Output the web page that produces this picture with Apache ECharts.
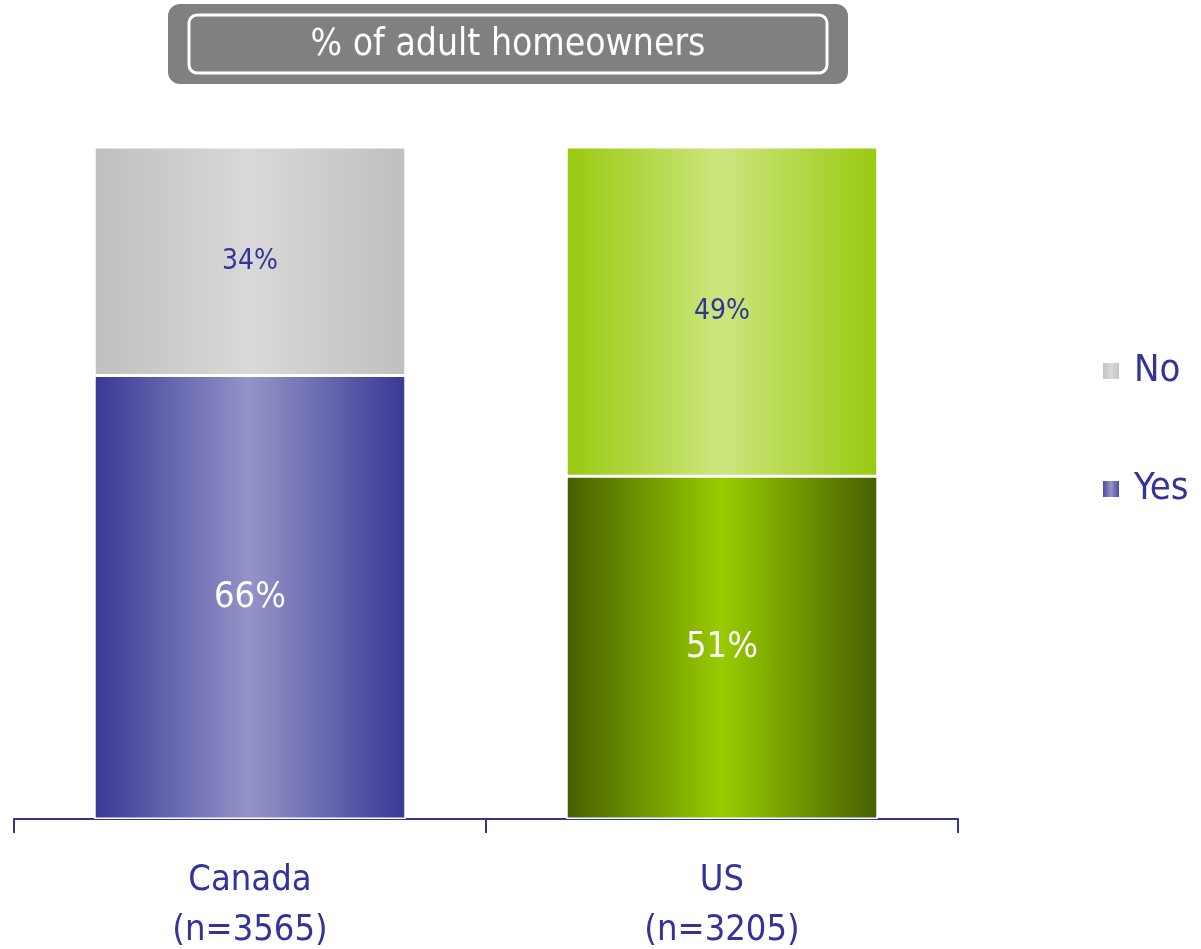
<!DOCTYPE html>
<html>
<head>
<meta charset="utf-8">
<script src="https://cdn.jsdelivr.net/npm/echarts@6/dist/echarts.min.js"></script>
<style>
html, body { margin: 0; padding: 0; background: #fff; }
#chart { width: 1201px; height: 949px; }
</style>
</head>
<body>
<div id="chart"></div>
<script>
var countries = ['Canada', 'US'];
var sampleSizes = ['n=3565', 'n=3205'];
var yesValues = [66, 51];
var noValues = [34, 49];

var FONT = "'Liberation Sans Narrow', 'DejaVu Sans Condensed', 'Liberation Sans', sans-serif";

function hGrad(edge, mid) {
	return {
		type: 'linear', x: 0, y: 0, x2: 1, y2: 0,
		colorStops: [
			{ offset: 0, color: edge },
			{ offset: 0.5, color: mid },
			{ offset: 1, color: edge }
		]
	};
}

var yesColors = [hGrad('#383896', '#9494c8'), hGrad('#475f00', '#99cc00')];
var noColors = [hGrad('#bfbfbf', '#d9d9d9'), hGrad('#99c90f', '#cde67f')];

var categories = countries.map(function(c, i) {
	return c + '\n(' + sampleSizes[i] + ')';
});

var option = {
	animation: false,
	graphic: [
		{ type: 'rect', shape: { x: 168, y: 4, width: 680, height: 80, r: 12 }, style: { fill: '#808080' } },
		{ type: 'rect', shape: { x: 189, y: 15, width: 638, height: 58, r: 8 }, style: { fill: 'none', stroke: '#fff', lineWidth: 3 } },
		{ type: 'text', x: 508, y: 45, style: { text: '% of adult homeowners', fill: '#fff', fontSize: 37, fontFamily: FONT, align: 'center', verticalAlign: 'middle' } }
	],
	legend: {
		data: ['No', 'Yes'],
		orient: 'vertical',
		left: 1096,
		top: 347,
		padding: 5,
		icon: 'rect',
		itemWidth: 18,
		itemHeight: 18,
		itemGap: 80,
		textStyle: { fontSize: 38, color: '#333399', fontFamily: FONT, padding: [0, 0, 0, 9] }
	},
	grid: { left: 14, right: 243, top: 147, bottom: 130, outerBoundsMode: 'none', containLabel: false },
	xAxis: {
		type: 'category',
		data: categories,
		axisLine: { lineStyle: { color: '#333399', width: 2 } },
		axisTick: { show: true, length: 14, lineStyle: { color: '#333399', width: 2 } },
		axisLabel: { fontSize: 36, lineHeight: 50, margin: 37, color: '#333399', fontFamily: FONT }
	},
	yAxis: { type: 'value', min: 0, max: 100, show: false },
	series: [
		{
			name: 'Yes',
			type: 'bar',
			stack: 'total',
			barWidth: '66%',
			itemStyle: { color: yesColors[0], borderColor: '#fff', borderWidth: 1.5 },
			label: { show: true, position: 'inside', color: '#fff', fontSize: 36, fontFamily: FONT, formatter: '{c}%' },
			data: yesValues.map(function(v, i) { return { value: v, itemStyle: { color: yesColors[i] } }; })
		},
		{
			name: 'No',
			type: 'bar',
			stack: 'total',
			itemStyle: { color: noColors[0], borderColor: '#fff', borderWidth: 1.5 },
			label: { show: true, position: 'inside', color: '#333399', fontSize: 28, fontFamily: FONT, formatter: '{c}%' },
			data: noValues.map(function(v, i) { return { value: v, itemStyle: { color: noColors[i] } }; })
		}
	]
};

var chart = echarts.init(document.getElementById('chart'));
chart.setOption(option);
</script>
</body>
</html>
